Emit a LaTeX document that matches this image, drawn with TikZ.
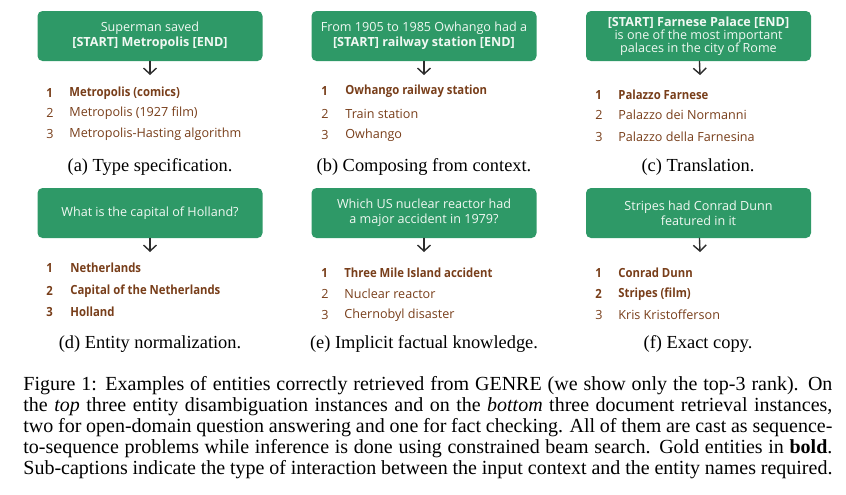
\documentclass[tikz,border=0pt]{standalone}
\usepackage{fontspec}
\setmainfont{Liberation Serif}
\newfontfamily\panelfont{Open Sans}
\newfontfamily\goldfont{Open Sans}[FakeStretch=0.9]
\usetikzlibrary{arrows.meta}
\definecolor{boxgreen}{RGB}{46,153,103}
\definecolor{itembrown}{RGB}{120,62,26}
\definecolor{arrowgray}{RGB}{45,45,45}
\definecolor{boxtext}{RGB}{240,248,242}
\newcommand\capline[1]{\hbox to 404.5pt{#1}}
\begin{document}
\begin{tikzpicture}[x=0.5pt, y=0.5pt, font=\panelfont\fontsize{6.3}{7.5}\selectfont, line join=round, line cap=round,
	>={Straight Barb[length=3pt,width=6.5pt]},
	querybox/.style={fill=boxgreen, text=boxtext, rounded corners=2.5pt, minimum width=112.5pt, minimum height=25pt, align=center, inner sep=1pt},
	rank/.style={anchor=west, text=itembrown, inner sep=0pt},
	subcap/.style={font=\rmfamily\fontsize{9.2}{10.5}\selectfont},
	pointer/.style={->, draw=arrowgray, line width=0.7pt}]
	\useasboundingbox (0,0) rectangle (846,-494);
	\def\g{\goldfont\bfseries} % gold entity
	\def\o{\mdseries} % other entity
	% (a) type specification
	\node[querybox] (qa) at (150,-36) {Superman saved\\\textbf{[START] Metropolis [END]}};
	\coordinate (ta) at (150,-75);
	\draw[pointer] (qa) -- (ta);
	\foreach \n/\y/\w/\txt in {1/93/\g/{Metropolis (comics)}, 2/113/\o/{Metropolis (1927 film)}, 3/134/\o/{Metropolis-Hasting algorithm}}{
		\node[rank] (na\n) at (46,-\y) {\w\n};
		\node[rank] (ea\n) at (69,-\y) {\w\txt};
	}
	\node[subcap] (ca) at (150,-167) {(a) Type specification.};
	% (b) composing from context
	\node[querybox] (qb) at (424,-36) {From 1905 to 1985 Owhango had a\\\textbf{[START] railway station [END]}};
	\coordinate (tb) at (424,-75);
	\draw[pointer] (qb) -- (tb);
	\foreach \n/\y/\w/\txt in {1/91/\g/{Owhango railway station}, 2/114/\o/{Train station}, 3/135/\o/{Owhango}}{
		\node[rank] (nb\n) at (321,-\y) {\w\n};
		\node[rank] (eb\n) at (345,-\y) {\w\txt};
	}
	\node[subcap] (cb) at (424,-167) {(b) Composing from context.};
	% (c) translation
	\node[querybox, font=\panelfont\fontsize{6.3}{6.5}\selectfont] (qc) at (698.5,-36) {\textbf{[START] Farnese Palace [END]}\\is one of the most important\\palaces in the city of Rome};
	\coordinate (tc) at (700,-75);
	\draw[pointer] (qc) -- (tc);
	\foreach \n/\y/\w/\txt in {1/95/\g/{Palazzo Farnese}, 2/115/\o/{Palazzo dei Normanni}, 3/137/\o/{Palazzo della Farnesina}}{
		\node[rank] (nc\n) at (595,-\y) {\w\n};
		\node[rank] (ec\n) at (618,-\y) {\w\txt};
	}
	\node[subcap] (cc) at (698,-167) {(c) Translation.};
	% (d) entity normalization
	\node[querybox] (qd) at (150,-213) {What is the capital of Holland?};
	\coordinate (td) at (150,-252);
	\draw[pointer] (qd) -- (td);
	\foreach \n/\y/\w/\txt in {1/268/\g/{Netherlands}, 2/291/\g/{Capital of the Netherlands}, 3/312/\g/{Holland}}{
		\node[rank] (nd\n) at (46,-\y) {\w\n};
		\node[rank] (ed\n) at (70,-\y) {\w\txt};
	}
	\node[subcap] (cd) at (150,-344) {(d) Entity normalization.};
	% (e) implicit factual knowledge
	\node[querybox] (qe) at (424,-213) {Which US nuclear reactor had\\a major accident in 1979?};
	\coordinate (te) at (424,-252);
	\draw[pointer] (qe) -- (te);
	\foreach \n/\y/\w/\txt in {1/273/\g/{Three Mile Island accident}, 2/294/\o/{Nuclear reactor}, 3/315/\o/{Chernobyl disaster}}{
		\node[rank] (ne\n) at (321,-\y) {\w\n};
		\node[rank] (ee\n) at (344,-\y) {\w\txt};
	}
	\node[subcap] (ce) at (424,-344) {(e) Implicit factual knowledge.};
	% (f) exact copy
	\node[querybox] (qf) at (698.5,-213) {Stripes had Conrad Dunn\\featured in it};
	\coordinate (tf) at (700,-252);
	\draw[pointer] (qf) -- (tf);
	\foreach \n/\y/\w/\txt in {1/273/\g/{Conrad Dunn}, 2/294/\g/{Stripes (film)}, 3/315/\o/{Kris Kristofferson}}{
		\node[rank] (nf\n) at (595,-\y) {\w\n};
		\node[rank] (ef\n) at (618,-\y) {\w\txt};
	}
	\node[subcap] (cf) at (698,-344) {(f) Exact copy.};
	% figure caption
	\node[anchor=north west, inner sep=0pt, align=left, font=\rmfamily\fontsize{10}{10.5}\selectfont] (fig) at (23,-376) {%
		\capline{Figure 1: Examples of entities correctly retrieved from GENRE (we show only the top-3 rank). On}\\
		\capline{the \emph{top} three entity disambiguation instances and on the \emph{bottom} three document retrieval instances,}\\
		\capline{two for open-domain question answering and one for fact checking. All of them are cast as sequence-}\\
		\capline{to-sequence problems while inference is done using constrained beam search. Gold entities in \textbf{bold}.}\\
		\capline{Sub-captions indicate the type of interaction between the input context and the entity names required.}};
\end{tikzpicture}
\end{document}
